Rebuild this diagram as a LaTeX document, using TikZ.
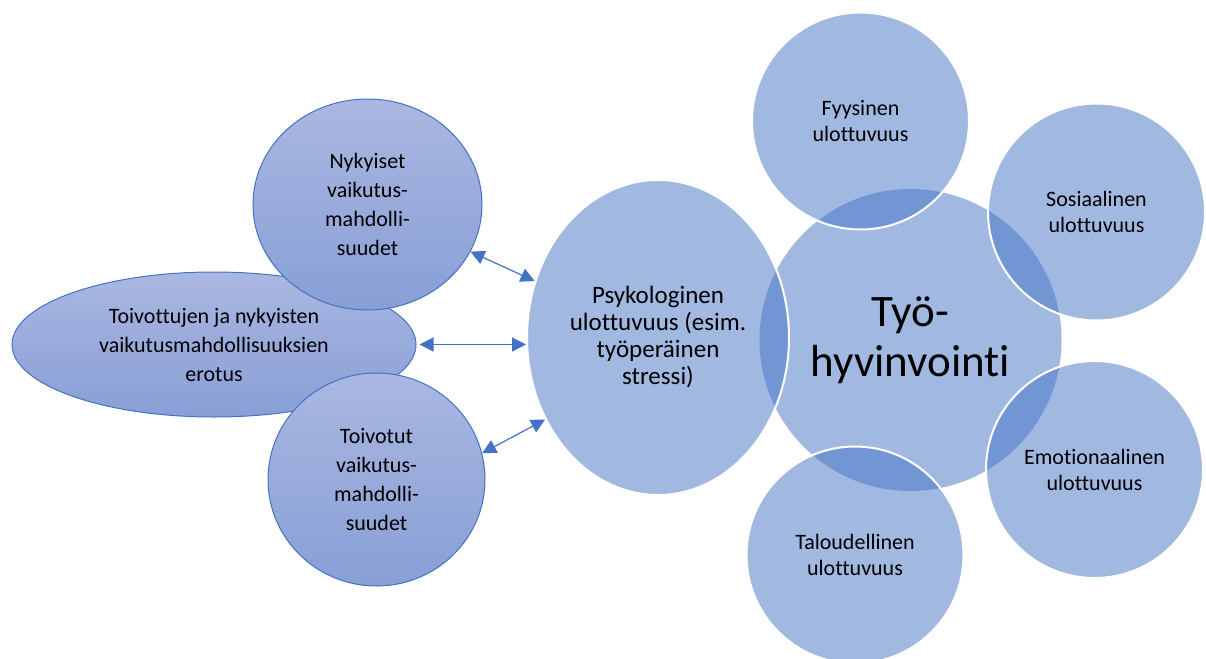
\documentclass[tikz,border=0pt]{standalone}
\usepackage{fontspec}
\setmainfont{Carlito}[Ligatures=NoCommon]
\usetikzlibrary{shapes.geometric,arrows.meta}
\definecolor{accblue}{HTML}{4472C4}
\definecolor{shadetop}{HTML}{AAB7E1}
\definecolor{shadebot}{HTML}{889FD6}

\begin{document}
\begin{tikzpicture}[x=1pt,y=-1pt,
    leftbox/.style={ellipse,draw=accblue,line width=1pt,top color=shadetop,bottom color=shadebot,align=center,font=\fontsize{22}{29}\selectfont},
    dimbox/.style={circle,draw=white,line width=2pt,fill=accblue,fill opacity=0.5,text opacity=1,minimum size=217pt,align=center,font=\fontsize{22}{26}\selectfont},
    twoway/.style={draw=accblue,line width=1.2pt,arrows={Triangle[length=14pt,width=14pt]-Triangle[length=14pt,width=14pt]}}]
    \useasboundingbox (0,0) rectangle (1206,658);
    \node[leftbox,minimum width=404pt,minimum height=145pt] (erotus) at (214,344.5) {Toivottujen ja nykyisten\\vaikutusmahdollisuuksien\\erotus};
    \node[leftbox,minimum width=229pt,minimum height=211pt] (nykyiset) at (367.5,204.5) {Nykyiset\\vaikutus-\\mahdolli-\\suudet};
    \node[leftbox,minimum width=217pt,minimum height=213pt] (toivotut) at (376.5,479.5) {Toivotut\\vaikutus-\\mahdolli-\\suudet};
    \node[circle,fill=accblue,fill opacity=0.5,text opacity=1,minimum size=302pt,align=center,font=\fontsize{45}{50}\selectfont] (hyvinvointi) at (910.5,340) {Työ-\\hyvinvointi};
    \node[dimbox,ellipse,minimum width=262pt,minimum height=315pt,font=\fontsize{25}{27}\selectfont] (psyk) at (658,337.5) {Psykologinen\\ulottuvuus (esim.\\työperäinen\\stressi)};
    \node[dimbox] (fyys) at (860.5,121) {Fyysinen\\ulottuvuus};
    \node[dimbox] (sos) at (1096.5,212) {Sosiaalinen\\ulottuvuus};
    \node[dimbox] (emo) at (1094.5,469.5) {Emotionaalinen\\ulottuvuus};
    \node[dimbox] (talous) at (855,555) {Taloudellinen\\ulottuvuus};
    \draw[twoway] (nykyiset) -- (psyk);
    \draw[twoway,shorten <=3pt] (erotus.east) -- (psyk.west |- erotus.east);
    \draw[twoway] (toivotut.14) -- (psyk.216);
\end{tikzpicture}
\end{document}
